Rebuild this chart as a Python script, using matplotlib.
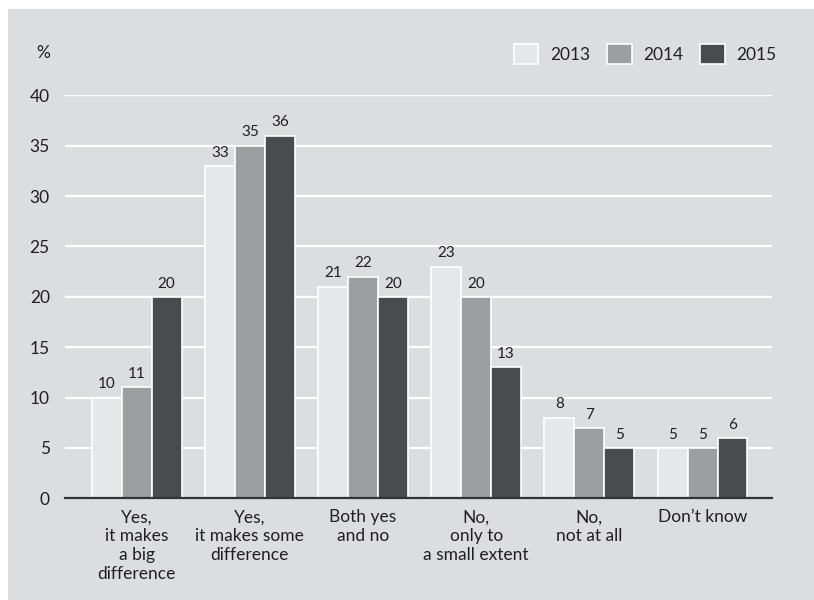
import numpy as np
import matplotlib.pyplot as plt
from matplotlib.patches import Rectangle

plt.rcParams['font.family'] = ['Lato', 'DejaVu Sans']

categories = ['Yes,\nit makes\na big\ndifference',
              'Yes,\nit makes some\ndifference',
              'Both yes\nand no',
              'No,\nonly to\na small extent',
              'No,\nnot at all',
              'Don\u2019t know']
years = ['2013', '2014', '2015']
pct_2013 = [10, 33, 21, 23, 8, 5]
pct_2014 = [11, 35, 22, 20, 7, 5]
pct_2015 = [20, 36, 20, 13, 5, 6]
yticks = [0, 5, 10, 15, 20, 25, 30, 35, 40]

colors = ['#e6e7e9', '#9d9ea2', '#4a4b4e']
bg = '#dcdddf'
text_col = '#231f20'

W, H = 814, 600
fig = plt.figure(figsize=(W / 100, H / 100), dpi=100)
fig.patch.set_facecolor('white')
# grey panel behind the chart
fig.patches.append(Rectangle((8 / W, 0), 1 - 8 / W, 1 - 9 / H,
                             transform=fig.transFigure, facecolor=bg,
                             edgecolor='none', zorder=-1))

ax = fig.add_axes([65 / W, (H - 498.3) / H, (772 - 65) / W, (498.3 - 95.3) / H])
ax.set_facecolor(bg)
ax.patch.set_alpha(0)

x = np.arange(len(categories))
bw = 0.265
series = [pct_2013, pct_2014, pct_2015]
for i, (vals, c, yr) in enumerate(zip(series, colors, years)):
    pos = x + (i - 1) * bw
    ax.bar(pos, vals, width=bw, color=c, edgecolor='white', linewidth=1.2,
           zorder=3, label=yr)
    for px, v in zip(pos, vals):
        ax.annotate(str(v), (px, v), xytext=(0, 4.5), textcoords='offset points',
                    ha='center', va='bottom', fontsize=11, color=text_col)

ax.set_xlim(-0.633, 5.614)
ax.set_ylim(0, 40)
ax.set_yticks(yticks)
for t in yticks[1:]:
    ax.axhline(t, color='white', linewidth=1.6, zorder=1)
ax.set_xticks(x)
ax.set_xticklabels(categories, fontsize=12.5, color=text_col, linespacing=1.22)
ax.tick_params(axis='x', length=0, pad=8)
ax.tick_params(axis='y', length=0, pad=11, labelsize=12.5, labelcolor=text_col)
for s in ['left', 'right', 'top']:
    ax.spines[s].set_visible(False)
ax.spines['bottom'].set_color('#333333')
ax.spines['bottom'].set_linewidth(1.6)
ax.spines['bottom'].set_zorder(4)

fig.text(50 / W, 1 - 53 / H, '%', ha='right', va='center', fontsize=12.5,
         color=text_col)

leg = ax.legend(loc='center right', bbox_to_anchor=(776 / W, 1 - 54 / H),
                bbox_transform=fig.transFigure, ncol=3, frameon=False,
                fontsize=12.5, handlelength=1.4, handleheight=1.4,
                handletextpad=0.65, columnspacing=1.0, borderpad=0,
                borderaxespad=0)
for t in leg.get_texts():
    t.set_color(text_col)

fig.savefig('out.png', dpi=100, facecolor=fig.get_facecolor())
